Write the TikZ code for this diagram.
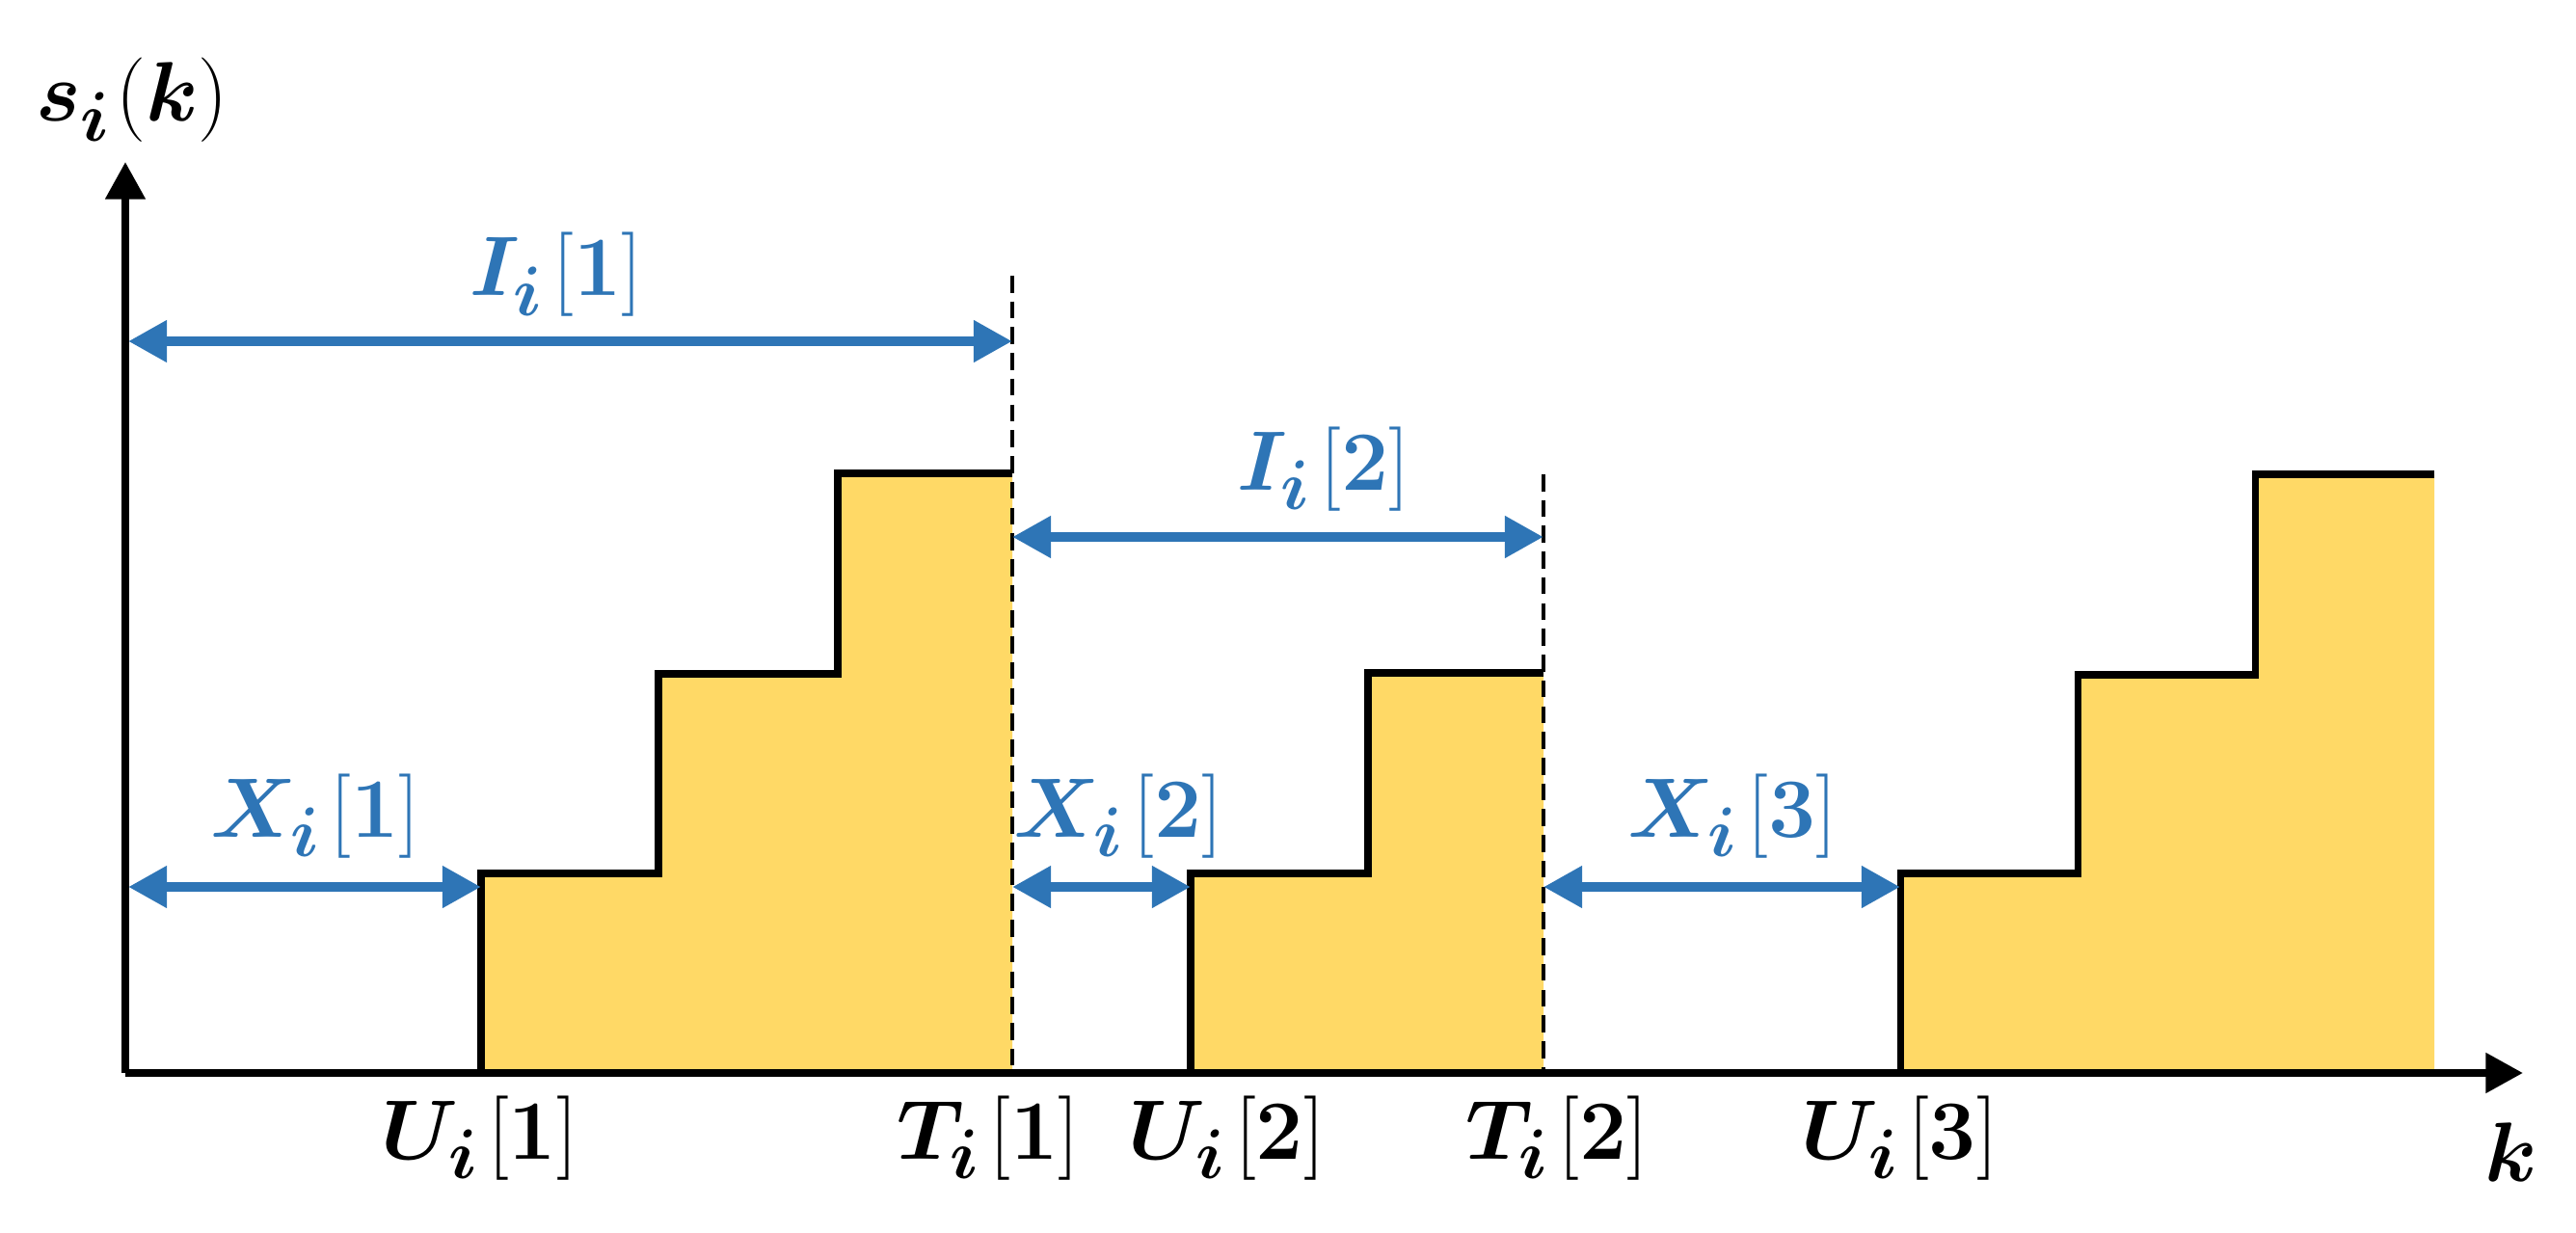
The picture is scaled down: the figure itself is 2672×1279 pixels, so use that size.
\documentclass[tikz,border=0pt]{standalone}
\usepackage{bm}
\usetikzlibrary{arrows.meta}
\definecolor{barfill}{HTML}{FFD966}
\definecolor{dimblue}{HTML}{2E75B6}
\newcommand{\lbl}[3]{$\bm{#1}_{\bm{#2}}\mkern2mu[\mathbf{#3}]$}
\begin{document}
\begin{tikzpicture}[x=0.01cm,y=-0.01cm,
  bar/.style={fill=barfill,draw=none},
  stepline/.style={line width=2pt,line join=miter},
  guide/.style={line width=1.3pt,dash pattern=on 5pt off 2.6pt},
  axisline/.style={line width=2.3pt,-{Triangle[length=11pt,width=11.4pt]}},
  span/.style={dimblue,line width=2.85pt,{Triangle[length=11.4pt,width=11.7pt]}-{Triangle[length=11.4pt,width=11.7pt]}},
  bluelab/.style={text=dimblue,anchor=base,font=\fontsize{28}{32}\selectfont,inner sep=0pt},
  blacklab/.style={anchor=base,font=\fontsize{28}{32}\selectfont,inner sep=0pt}]
\useasboundingbox (0,0) rectangle (2672,1279);

% coordinates
\coordinate (O) at (130,1113);
\coordinate (ytop) at (130,168);
\coordinate (xend) at (2617,1113);
\coordinate (T1top) at (1050,286);
\coordinate (T1bot) at (1050,1113);
\coordinate (T2top) at (1601,492);
\coordinate (T2bot) at (1601,1113);
\coordinate (I1a) at (133,354);
\coordinate (I1b) at (1050,354);
\coordinate (I2a) at (1050,557);
\coordinate (I2b) at (1601,557);
\coordinate (X1a) at (133,920);
\coordinate (X1b) at (499,920);
\coordinate (X2a) at (1050,920);
\coordinate (X2b) at (1235,920);
\coordinate (X3a) at (1601,920);
\coordinate (X3b) at (1971,920);

% yellow fills
\fill[bar] (499,1113) -- (499,906) -- (683,906) -- (683,699) -- (869,699) -- (869,491) -- (1050,491) -- (1050,1113) -- cycle;
\fill[bar] (1235,1113) -- (1235,906) -- (1419,906) -- (1419,698) -- (1601,698) -- (1601,1113) -- cycle;
\fill[bar] (1971,1113) -- (1971,906) -- (2155,906) -- (2155,700) -- (2339,700) -- (2339,492) -- (2525,492) -- (2525,1113) -- cycle;

% dashed guides
\draw[guide] (T1top) -- (T1bot);
\draw[guide] (T2top) -- (T2bot);

% step outlines
\draw[stepline] (499,1113) -- (499,906) -- (683,906) -- (683,699) -- (869,699) -- (869,491) -- (1050,491);
\draw[stepline] (1235,1113) -- (1235,906) -- (1419,906) -- (1419,698) -- (1601,698);
\draw[stepline] (1971,1113) -- (1971,906) -- (2155,906) -- (2155,700) -- (2339,700) -- (2339,492) -- (2525,492);

% axes
\draw[axisline] (O) -- (ytop);
\draw[axisline] (O) -- (xend);

% spans
\draw[span] (I1a) -- (I1b);
\draw[span] (I2a) -- (I2b);
\draw[span] (X1a) -- (X1b);
\draw[span] (X2a) -- (X2b);
\draw[span] (X3a) -- (X3b);

% blue labels
\node[bluelab] (lI1) at (577,307) {\lbl{I}{i}{1}};
\node[bluelab] (lI2) at (1373,508) {\lbl{I}{i}{2}};
\node[bluelab] (lX1) at (327,868) {\lbl{X}{i}{1}};
\node[bluelab] (lX2) at (1160,868) {\lbl{X}{i}{2}};
\node[bluelab] (lX3) at (1797,868) {\lbl{X}{i}{3}};

% black labels
\node[blacklab] (lU1) at (497,1202) {\lbl{U}{i}{1}};
\node[blacklab] (lT1) at (1025,1202) {\lbl{T}{i}{1}};
\node[blacklab] (lU2) at (1272,1202) {\lbl{U}{i}{2}};
\node[blacklab] (lT2) at (1615,1202) {\lbl{T}{i}{2}};
\node[blacklab] (lU3) at (1970,1202) {\lbl{U}{i}{3}};
\node[blacklab,font=\fontsize{30}{34}\selectfont] (lk) at (2605,1225) {$\bm{k}$};
\node[blacklab,font=\fontsize{30}{34}\selectfont] (ls) at (137,126) {$\bm{s}_{\bm{i}}\mkern1mu(\bm{k})$};
\end{tikzpicture}
\end{document}
